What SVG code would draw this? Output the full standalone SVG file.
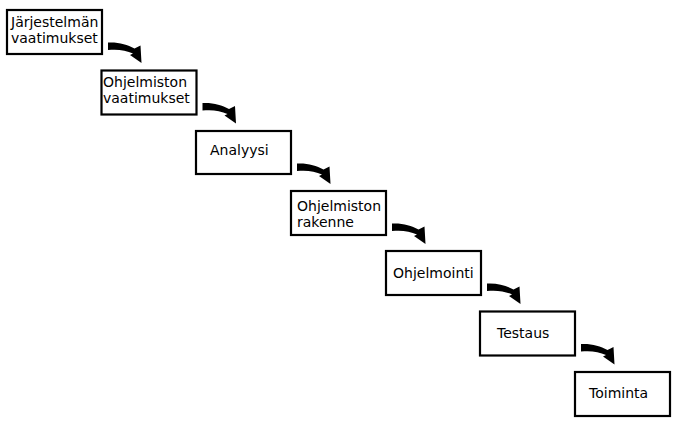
<svg xmlns="http://www.w3.org/2000/svg" xmlns:xlink="http://www.w3.org/1999/xlink" width="684" height="422" viewBox="0 0 684 422">
<style>
.box{fill:#fff;stroke:#000;stroke-width:2.2}
.t{font-family:"DejaVu Sans",sans-serif;font-size:14px;fill:#000}
.arr{fill:#000}
</style>
<defs>
<path id="arrow" class="arr" d="M6,32.5 C17,32 25,34.5 32.5,38.5 L38.5,35.5 L39.5,53 L28,45 L31,43.5 C24,40 15,39 6,40 Z"/>
</defs>
<rect width="684" height="422" fill="#fff"/>
<g id="connectors">
<use xlink:href="#arrow" transform="translate(102,10)"/>
<use xlink:href="#arrow" transform="translate(196.5,70.5)"/>
<use xlink:href="#arrow" transform="translate(291,131)"/>
<use xlink:href="#arrow" transform="translate(386,191)"/>
<use xlink:href="#arrow" transform="translate(481,251)"/>
<use xlink:href="#arrow" transform="translate(575,311.5)"/>
</g>
<g id="n1"><rect class="box" x="7" y="10" width="95" height="44"/><text class="t" x="11" y="27">Järjestelmän</text><text class="t" x="11" y="43">vaatimukset</text></g>
<g id="n2"><rect class="box" x="101.5" y="70.5" width="95" height="44"/><text class="t" x="103" y="87">Ohjelmiston</text><text class="t" x="103" y="103">vaatimukset</text></g>
<g id="n3"><rect class="box" x="196" y="131" width="95" height="43"/><text class="t" x="210" y="155">Analyysi</text></g>
<g id="n4"><rect class="box" x="291" y="191" width="95" height="44"/><text class="t" x="297" y="211">Ohjelmiston</text><text class="t" x="297" y="227">rakenne</text></g>
<g id="n5"><rect class="box" x="386" y="251" width="95" height="44"/><text class="t" x="393" y="278">Ohjelmointi</text></g>
<g id="n6"><rect class="box" x="480" y="311.5" width="95" height="44"/><text class="t" x="497" y="338">Testaus</text></g>
<g id="n7"><rect class="box" x="575" y="372" width="95" height="44"/><text class="t" x="589" y="398">Toiminta</text></g>
</svg>
